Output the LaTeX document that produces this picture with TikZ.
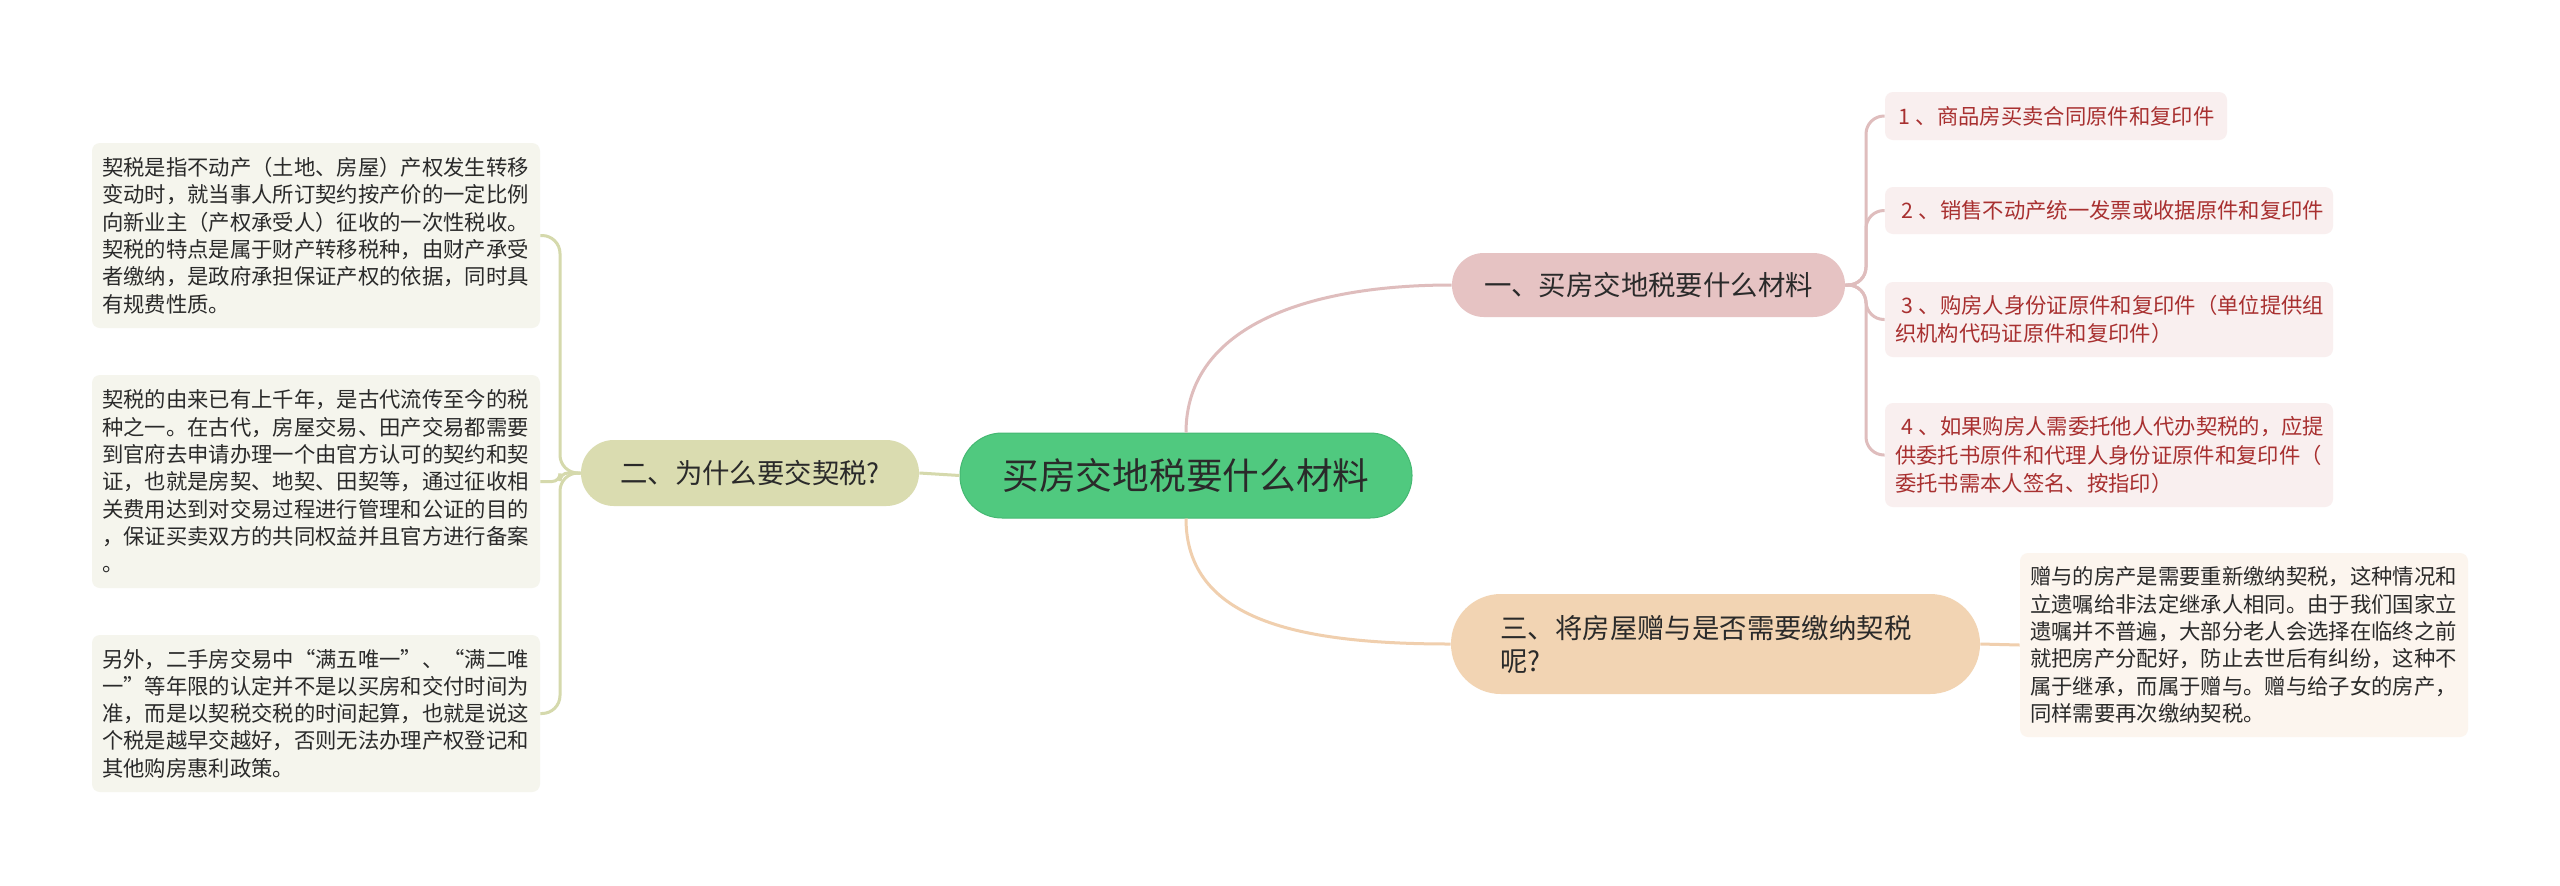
\documentclass[tikz,border=0pt]{standalone}
\usepackage{fontspec}
\setmainfont{Noto Sans CJK SC}
\definecolor{cgreen}{HTML}{50C97F}
\definecolor{cgreenD}{HTML}{45B872}
\definecolor{cpink}{HTML}{E6C3C3}
\definecolor{cpinkL}{HTML}{DFBDBD}
\definecolor{colive}{HTML}{DADCB0}
\definecolor{coliveL}{HTML}{D5D9AC}
\definecolor{cpeach}{HTML}{F2D4B3}
\definecolor{cpeachL}{HTML}{F0CFAE}
\definecolor{leafG}{HTML}{F5F5ED}
\definecolor{leafP}{HTML}{F9EFEF}
\definecolor{leafO}{HTML}{FCF5EE}
\definecolor{redtext}{HTML}{A83030}
\definecolor{darktext}{HTML}{2A2A2A}
\newcommand{\nk}{\kern3pt}
\tikzset{
  mainbox/.style={fill=cgreen, draw=cgreenD, line width=0.5pt, rounded corners=21pt,
    minimum width=226pt, minimum height=42.5pt, inner sep=0pt,
    font=\fontsize{18.35pt}{22pt}\selectfont, text=darktext},
  branchbox/.style={rounded corners=15.9pt, inner sep=0pt,
    font=\fontsize{13.7pt}{16.5pt}\selectfont, text=darktext},
  leafbox/.style={rounded corners=4pt, inner xsep=5pt, inner ysep=0pt, align=left,
    text width=214pt, minimum width=224pt,
    font=\fontsize{10.67pt}{13.65pt}\selectfont, text=darktext},
  rleaf/.style={leafbox, fill=leafP, text=redtext, font=\fontsize{10.67pt}{14.25pt}\selectfont},
  conn/.style={line width=1.5pt},
}
\begin{document}
\begin{tikzpicture}[x=0.5pt, y=-0.5pt]
\useasboundingbox[fill=white] (0,0) rectangle (2560,885);

% central
\node[mainbox] (C) at (1186,475.5) {买房交地税要什么材料};

% branches
\node[branchbox, fill=cpink, minimum width=196.5pt, minimum height=32pt] (N1) at (1648.5,285) {一、买房交地税要什么材料};
\node[branchbox, fill=colive, minimum width=169pt, minimum height=33pt, rounded corners=16.4pt] (N2) at (750,473) {二、为什么要交契税?};
\node[branchbox, fill=cpeach, minimum width=264.5pt, minimum height=50pt, rounded corners=24.9pt,
  text width=215pt, align=left] (N3) at (1715.5,644) {三、将房屋赠与是否需要缴纳契税\\呢?};

% left leaves
\node[leafbox, fill=leafG, minimum height=92.5pt] (L1) at (316,235.5) {契税是指不动产（土地、房屋）产权发生转移\\变动时，就当事人所订契约按产价的一定比例\\向新业主（产权承受人）征收的一次性税收。\\契税的特点是属于财产转移税种，由财产承受\\者缴纳，是政府承担保证产权的依据，同时具\\有规费性质。};
\node[leafbox, fill=leafG, minimum height=106.5pt] (L2) at (316,481.5) {契税的由来已有上千年，是古代流传至今的税\\种之一。在古代，房屋交易、田产交易都需要\\到官府去申请办理一个由官方认可的契约和契\\证，也就是房契、地契、田契等，通过征收相\\关费用达到对交易过程进行管理和公证的目的\\，保证买卖双方的共同权益并且官方进行备案\\。};
\node[leafbox, fill=leafG, minimum height=78.5pt] (L3) at (316,713.5) {另外，二手房交易中“满五唯一”、“满二唯\\一”等年限的认定并不是以买房和交付时间为\\准，而是以契税交税的时间起算，也就是说这\\个税是越早交越好，否则无法办理产权登记和\\其他购房惠利政策。};

% right leaves
\node[rleaf, text width=164pt, minimum width=171pt, inner xsep=3.5pt, minimum height=24pt] (R1) at (2056,116) {\nk1\nk、商品房买卖合同原件和复印件};
\node[rleaf, minimum height=23.5pt] (R2) at (2109,210.5) {\nk2\nk、销售不动产统一发票或收据原件和复印件};
\node[rleaf, minimum height=37.5pt] (R3) at (2109,319.5) {\nk3\nk、购房人身份证原件和复印件（单位提供组\\织机构代码证原件和复印件）};
\node[rleaf, minimum height=52pt] (R4) at (2109,455) {\nk4\nk、如果购房人需委托他人代办契税的，应提\\供委托书原件和代理人身份证原件和复印件（\\委托书需本人签名、按指印）};

\node[leafbox, fill=leafO, minimum height=92pt] (L5) at (2244,645) {赠与的房产是需要重新缴纳契税，这种情况和\\立遗嘱给非法定继承人相同。由于我们国家立\\遗嘱并不普遍，大部分老人会选择在临终之前\\就把房产分配好，防止去世后有纠纷，这种不\\属于继承，而属于赠与。赠与给子女的房产，\\同样需要再次缴纳契税。};

% connectors from centre
\draw[conn, coliveL] (C.west) -- (N2.east);
\draw[conn, cpinkL] (C.north) .. controls (1186,330) and (1300,285) .. (N1.west);
\draw[conn, cpeachL] (C.south) .. controls (1186,621) and (1300,644) .. (N3.west);

% connectors to left leaves
\coordinate (J2) at (560,473);
\draw[conn, coliveL, rounded corners=9pt] (N2.west) -- (J2) |- (L1.east);
\draw[conn, coliveL, rounded corners=4pt] (N2.west) -- (J2) |- (L2.east);
\draw[conn, coliveL, rounded corners=9pt] (N2.west) -- (J2) |- (L3.east);

% connectors to right leaves
\coordinate (J1) at (1866,285);
\draw[conn, cpinkL, rounded corners=9pt] (N1.east) -- (J1) |- (R1.west);
\draw[conn, cpinkL, rounded corners=9pt] (N1.east) -- (J1) |- (R2.west);
\draw[conn, cpinkL, rounded corners=9pt] (N1.east) -- (J1) |- (R3.west);
\draw[conn, cpinkL, rounded corners=9pt] (N1.east) -- (J1) |- (R4.west);

\draw[conn, cpeachL] (N3.east) -- (L5.west);
\end{tikzpicture}
\end{document}
